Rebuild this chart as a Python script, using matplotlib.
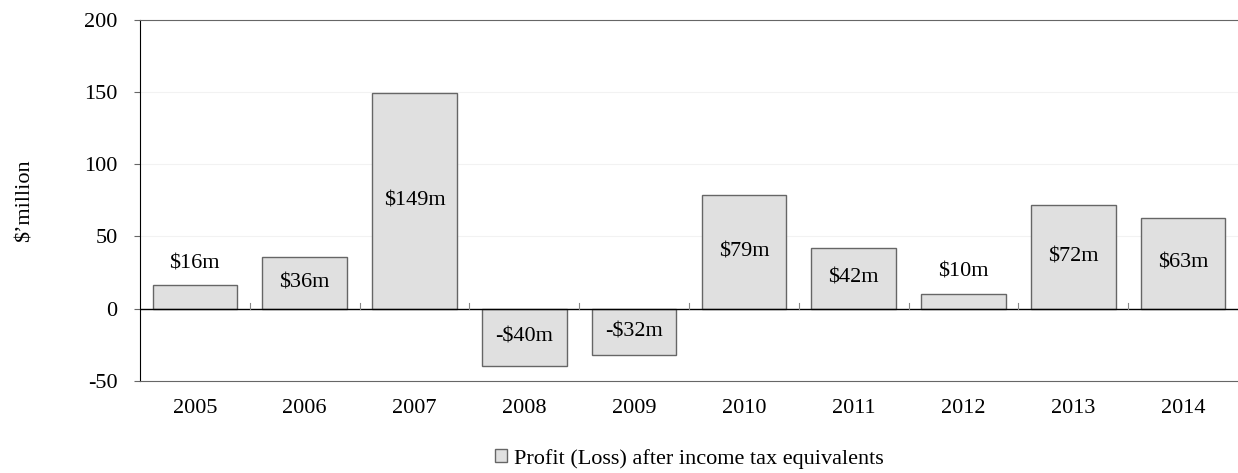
import numpy as np
import matplotlib.pyplot as plt

years = ['2005', '2006', '2007', '2008', '2009', '2010', '2011', '2012', '2013', '2014']
profit = [16, 36, 149, -40, -32, 79, 42, 10, 72, 63]

plt.rcParams['font.family'] = 'Liberation Serif'
plt.rcParams['font.size'] = 16
plt.rcParams['axes.unicode_minus'] = False

fig = plt.figure(figsize=(12.38, 4.73), dpi=100)
ax = fig.add_axes([0.113, 0.195, 0.887, 0.763])

x = np.arange(len(years))
bars = ax.bar(x, profit, width=0.77, color='#e0e0e0', edgecolor='#666666', linewidth=1.0,
              label='Profit (Loss) after income tax equivalents', zorder=3)

# labels sit mid-bar, except short bars where they go above
for xi, v in zip(x, profit):
    if 0 < v < 30:
        ax.text(xi, v + 15, '$%dm' % v, ha='center', va='center')
    else:
        s = '-$%dm' % abs(v) if v < 0 else '$%dm' % v
        ax.text(xi, v / 2, s, ha='center', va='center', zorder=4)

ax.set_xlim(-0.5, len(years) - 0.5)
ax.set_ylim(-50, 200)
ax.set_yticks([-50, 0, 50, 100, 150, 200])
ax.set_xticks(x)
ax.set_xticklabels(years)
ax.grid(axis='y', color='#f2f2f2', linewidth=0.8, zorder=0)
ax.axhline(0, color='black', linewidth=1.0, zorder=4)

# category separators on the zero line
for b in np.arange(0.5, len(years) - 0.5, 1):
    ax.plot([b, b], [0, 4], color='#888888', linewidth=0.8, zorder=4)

ax.tick_params(axis='x', length=0, pad=13)
ax.tick_params(axis='y', length=4, color='#666666', pad=12)
ax.spines['right'].set_visible(False)
ax.spines['top'].set_color('#666666')
ax.spines['bottom'].set_color('#666666')
ax.spines['left'].set_color('black')

ax.set_ylabel("$\u2019million", labelpad=36)

# legend centred under the plot area
fig.legend(handles=[bars], loc='lower center', bbox_to_anchor=(0.5565, -0.033), frameon=False,
           handlelength=0.55, handleheight=0.55, handletextpad=0.3, fontsize=16)

fig.savefig('out.png', dpi=100)
